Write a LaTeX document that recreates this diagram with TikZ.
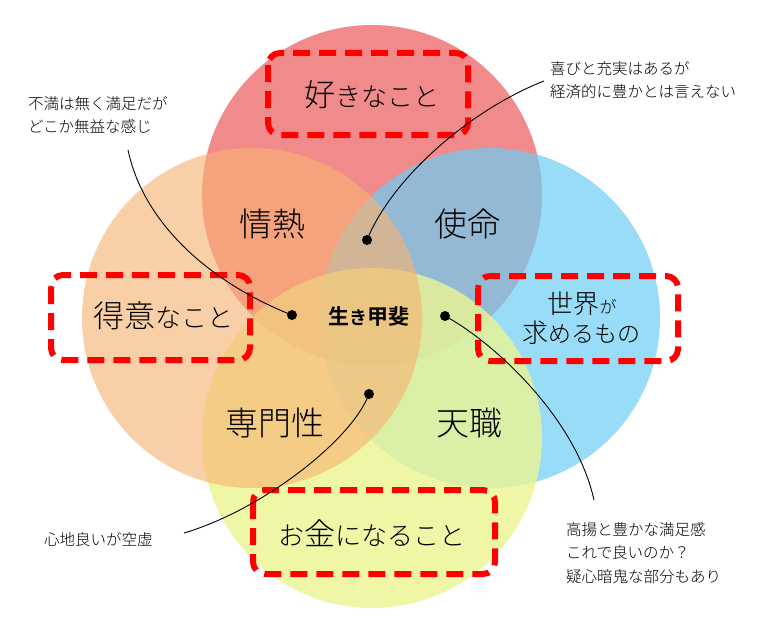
\documentclass[tikz,border=0pt]{standalone}
\usepackage{fontspec}
\setmainfont{Noto Sans CJK JP}[UprightFont={* Light},BoldFont={* Bold}]
\definecolor{cred}{RGB}{232,60,60}
\definecolor{cblue}{RGB}{109,206,246}
\definecolor{cyel}{RGB}{235,245,146}
\definecolor{corg}{RGB}{247,179,116}
\definecolor{dashred}{RGB}{255,0,0}
\newcommand\kanaB[1]{{\fontsize{26}{26}\selectfont #1}}
\newcommand\kanaM[1]{{\fontsize{23}{23}\selectfont #1}}
\newcommand\kanaS[1]{{\fontsize{17}{17}\selectfont #1}}
\newcommand\kanaC[1]{{\fontsize{18}{18}\selectfont #1}}
\begin{document}
\begin{tikzpicture}[x=1pt,y=-1pt,
  circ/.style 2 args={fill=#1,fill opacity=#2,draw=none},
  dbox/.style={draw=dashred,line width=6pt,dash pattern=on 17pt off 9pt,rounded corners=12pt},
  biglabel/.style={font=\fontsize{33}{33}\selectfont,inner sep=0pt},
  boxlabel/.style={font=\fontsize{31}{31}\selectfont,inner sep=0pt},
  midlabel/.style={font=\fontsize{26}{26}\selectfont,inner sep=0pt},
  corelabel/.style={font=\bfseries\fontsize{21}{21}\selectfont,inner sep=0pt},
  note/.style={font=\fontsize{15.5}{23.5}\selectfont,align=left,anchor=west,inner sep=0pt},
  conn/.style={draw=black,line width=0.9pt},
  dot/.style={circle,fill=black,minimum size=10pt,inner sep=0pt}]
\useasboundingbox (0,0) rectangle (765,626);
\fill[white] (0,0) rectangle (765,626);
% circles
\fill[circ={cred}{0.6}]  (372,195) circle[radius=170pt];
\fill[circ={cblue}{0.7}] (490,318) circle[radius=170pt];
\fill[circ={cyel}{0.8}]  (372,438) circle[radius=170pt];
\fill[circ={corg}{0.63}] (252,318) circle[radius=170pt];
% dashed boxes
\draw[dbox] (268,53) rectangle (468,135);
\draw[dbox] (51,275) rectangle (250,360);
\draw[dbox] (478,276) rectangle (678,361);
\draw[dbox] (253,490) rectangle (495,574);
% box labels
\node[boxlabel] (suki) at (372,95) {好\kanaB{きなこと}};
\node[boxlabel] (tokui) at (163,316) {得意\kanaB{なこと}};
\node[midlabel] (sekai) at (582,304) {世界\kanaS{が}};
\node[midlabel] (motome) at (581,333) {求\kanaM{めるもの}};
\node[boxlabel] (okane) at (372,533) {\kanaB{お}金\kanaB{になること}};
% region labels
\node[biglabel] (jonetsu) at (272,224) {情熱};
\node[biglabel] (shimei) at (467,224) {使命};
\node[biglabel] (senmon) at (275,423) {専門性};
\node[biglabel] (tensyoku) at (469,423) {天職};
\node[corelabel] (ikigai) at (369,317) {生\kanaC{き}甲斐};
% notes
\node[note] (n1) at (28,115) {不満は無く満足だが\\どこか無益な感じ};
\node[note] (n2) at (550,80) {喜びと充実はあるが\\経済的に豊かとは言えない};
\node[note] (n3) at (44,540) {心地良いが空虚};
\node[note] (n4) at (566,553) {高揚と豊かな満足感\\これで良いのか？\\疑心暗鬼な部分もあり};
% connectors
\coordinate (s1) at (128,150);
\node[dot] (d1) at (292,315) {};
\draw[conn] (s1) .. controls (145,230) and (220,287) .. (d1.center);
\coordinate (s2) at (544,81);
\node[dot] (d2) at (367,240) {};
\draw[conn] (s2) .. controls (470,110) and (392,178) .. (d2.center);
\node[dot] (d3) at (369,394) {};
\coordinate (s3) at (184,533);
\draw[conn] (d3.center) .. controls (352,440) and (262,510) .. (s3);
\node[dot] (d4) at (445,316) {};
\coordinate (s4) at (594,500);
\draw[conn] (d4.center) .. controls (490,340) and (575,415) .. (s4);
\end{tikzpicture}
\end{document}
